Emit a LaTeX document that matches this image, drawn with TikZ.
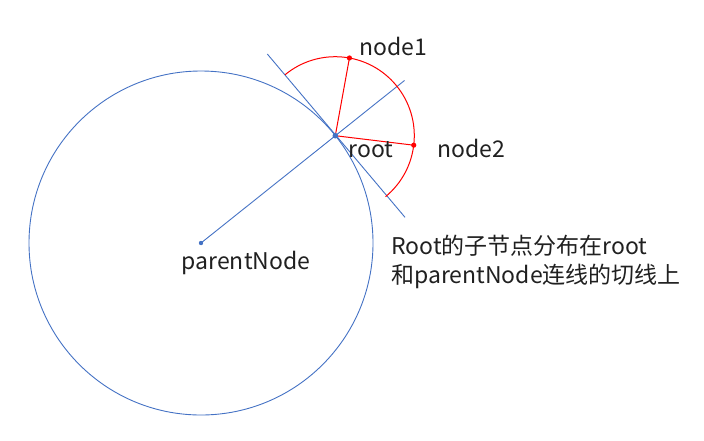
\documentclass[tikz,border=0pt]{standalone}
\usepackage{fontspec}
\setmainfont{Noto Sans CJK SC}
\usetikzlibrary{calc}
\definecolor{oblue}{HTML}{4472C4}
\definecolor{ored}{HTML}{FF0000}
\definecolor{otext}{HTML}{202020}
\tikzset{
  bline/.style={draw=oblue, line width=0.9pt},
  rline/.style={draw=ored, line width=1pt},
  lbl/.style={anchor=base west, inner sep=0pt, text=otext, font=\fontsize{23}{29}\selectfont},
  bdot/.style={fill=oblue},
  rdot/.style={fill=ored}
}
\begin{document}
\begin{tikzpicture}[x=1pt,y=-1pt]
\useasboundingbox (0,0) rectangle (704,440);
\coordinate (P) at (201,243);
\coordinate (R) at (335.3,135.7);
\coordinate (E) at (404.5,80.5);
\coordinate (T1) at (267.3,54);
\coordinate (T2) at (405,217.3);
\coordinate (N1) at ($(R)+(79.7:-79)$);
% circle
\draw[bline] (P) circle (172);
% radius line and tangent
\draw[bline] (P) -- (E);
\draw[bline] (T1) -- (T2);
% red arc (y axis flipped: angles measured clockwise)
\draw[rline] ($(R)+(-129.5:79)$) arc[start angle=-129.5, end angle=50.5, radius=79];
\coordinate (A1) at ($(R)+(-79.7:79)$);
\coordinate (A2) at ($(R)+(6.9:79)$);
\draw[rline] (R) -- (A1);
\draw[rline] (R) -- (A2);
\fill[rdot] (A1) circle (2.6);
\fill[rdot] (A2) circle (2.6);
\fill[bdot] (R) circle (2.8);
\fill[bdot] (P) circle (2.2);
% labels
\node[lbl] (n1) at (359,55) {node1};
\node[lbl] (n2) at (437,157) {node2};
\node[lbl] (rt) at (348.5,157) {root};
\node[lbl] (pn) at (181.5,269.5) {parentNode};
\node[lbl] (c1) at (391,254) {Root的子节点分布在root};
\node[lbl] (c2) at (391,283) {和parentNode连线的切线上};
\end{tikzpicture}
\end{document}
